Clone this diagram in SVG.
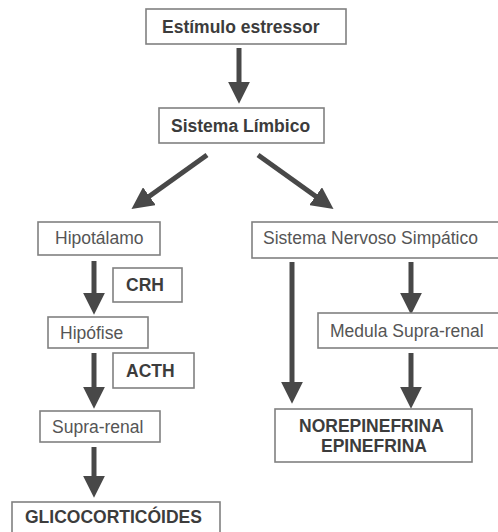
<svg xmlns="http://www.w3.org/2000/svg" width="498" height="532" viewBox="0 0 498 532">
<style>
.box{fill:#fff;stroke:#808080;stroke-width:1.6}
.b{font-family:"Liberation Sans",Arial,sans-serif;font-size:17.5px;font-weight:bold;fill:#3c3c3c}
.r{font-family:"Liberation Sans",Arial,sans-serif;font-size:17.5px;fill:#555}
.arr{stroke:#484848;stroke-width:5;fill:none;marker-end:url(#ah)}
</style>
<defs>
<marker id="ah" markerUnits="userSpaceOnUse" markerWidth="22" markerHeight="22" refX="2" refY="10" orient="auto" viewBox="0 0 20 20">
<path d="M0,0 L20,10 L0,20 z" fill="#484848"/>
</marker>
</defs>
<rect width="498" height="532" fill="#fff"/>
<g id="connectors">
<line class="arr" x1="239" y1="48" x2="239" y2="84"/>
<line class="arr" x1="207" y1="155" x2="147.6" y2="197.5"/>
<line class="arr" x1="258" y1="155" x2="317.4" y2="197.5"/>
<line class="arr" x1="94" y1="261" x2="94" y2="295"/>
<line class="arr" x1="94" y1="353" x2="94" y2="389"/>
<line class="arr" x1="94" y1="447" x2="94" y2="478"/>
<line class="arr" x1="292" y1="262" x2="292" y2="384"/>
<line class="arr" x1="411" y1="262" x2="411" y2="295"/>
<line class="arr" x1="411" y1="353" x2="411" y2="389"/>
</g>
<g id="estimulo"><rect class="box" x="146" y="9" width="200" height="35"/><text class="b" x="162" y="33">Estímulo estressor</text></g>
<g id="limbico"><rect class="box" x="159" y="108" width="165" height="35"/><text class="b" x="171" y="132">Sistema Límbico</text></g>
<g id="hipotalamo"><rect class="box" x="38" y="222" width="122" height="33"/><text class="r" x="55" y="244">Hipotálamo</text></g>
<g id="crh"><rect class="box" x="113" y="268" width="69" height="34"/><text class="b" x="126" y="291">CRH</text></g>
<g id="hipofise"><rect class="box" x="48" y="317" width="100" height="31"/><text class="r" x="60" y="339">Hipófise</text></g>
<g id="acth"><rect class="box" x="113" y="353" width="81" height="35"/><text class="b" x="126" y="377">ACTH</text></g>
<g id="suprarenal"><rect class="box" x="40" y="411" width="120" height="31"/><text class="r" x="52" y="433">Supra-renal</text></g>
<g id="glico"><rect class="box" x="12" y="502" width="208" height="40"/><text class="b" x="25" y="523">GLICOCORTICÓIDES</text></g>
<g id="sns"><rect class="box" x="252" y="222" width="256" height="36"/><text class="r" x="263" y="244">Sistema Nervoso Simpático</text></g>
<g id="medula"><rect class="box" x="318" y="313" width="190" height="35"/><text class="r" x="330" y="337">Medula Supra-renal</text></g>
<g id="norepinefrina"><rect class="box" x="275" y="409" width="197" height="53"/><text class="b" x="299" y="432">NOREPINEFRINA</text><text class="b" x="321" y="452">EPINEFRINA</text></g>
</svg>
